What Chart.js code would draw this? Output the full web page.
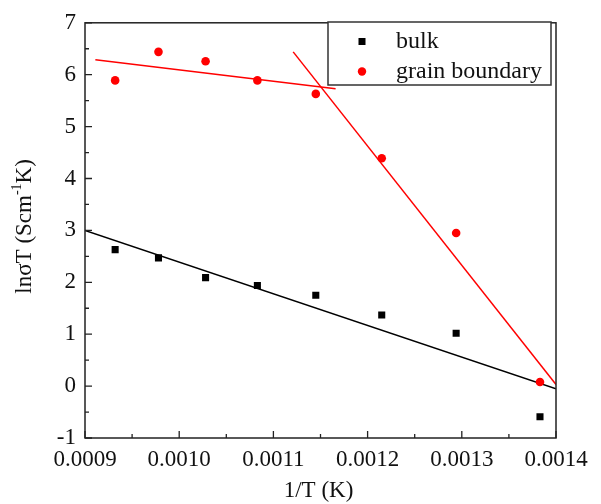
<!DOCTYPE html>
<html>
<head>
<meta charset="utf-8">
<style>
  html, body { margin: 0; padding: 0; background: #fff; }
  #wrap { width: 601px; height: 504px; }
</style>
<script src="https://cdn.jsdelivr.net/npm/chart.js@4/dist/chart.umd.min.js"></script>
</head>
<body>
<div id="wrap"><canvas id="c" width="601" height="504"></canvas></div>
<script>
// Inverse temperature, 1/T (K^-1), for T = 1073 ... 723 K
const invT = [0.000932, 0.000978, 0.001028, 0.001083, 0.001145, 0.001215, 0.001294, 0.001383];
// ln(sigma*T) for the bulk and grain-boundary contributions
const bulk = [2.63, 2.47, 2.09, 1.94, 1.75, 1.37, 1.02, -0.59];
const grainBoundary = [5.89, 6.44, 6.26, 5.89, 5.63, 4.39, 2.95, 0.08];

// Arrhenius fit lines: [x, y] end points
const bulkFitX = [0.0009, 0.0014];
const bulkFitY = [3.00, -0.05];
const gbFitHighTX = [0.000911, 0.001166];
const gbFitHighTY = [6.29, 5.73];
const gbFitLowTX = [0.001121, 0.0014];
const gbFitLowTY = [6.44, 0.03];

// Axis ranges and tick steps
const xRange = [0.0009, 0.0014], xStep = 0.0001;
const yRange = [-1, 7], yStep = 1;

const FONT = '"Liberation Serif", "Times New Roman", serif';

const pts = (xs, ys) => xs.map((x, i) => ({ x: x, y: ys[i] }));

// Frame, inward ticks, axis titles and legend
const decorations = {
  id: 'decorations',
  afterDatasetsDraw(chart) {
    const ctx = chart.ctx;
    const a = chart.chartArea;
    const xs = chart.scales.x, ys = chart.scales.y;
    ctx.save();
    ctx.strokeStyle = '#222';
    ctx.lineWidth = 1.5;
    ctx.strokeRect(a.left, a.top, a.right - a.left, a.bottom - a.top);

    ctx.lineWidth = 1.3;
    ctx.beginPath();
    // left axis ticks (pointing inward)
    for (let v = yRange[0]; v <= yRange[1] + 1e-9; v += yStep) {
      const py = ys.getPixelForValue(v);
      ctx.moveTo(a.left, py); ctx.lineTo(a.left + 7, py);
      if (v + yStep / 2 < yRange[1]) {
        const pm = ys.getPixelForValue(v + yStep / 2);
        ctx.moveTo(a.left, pm); ctx.lineTo(a.left + 4, pm);
      }
    }
    // bottom axis ticks (pointing inward)
    for (let i = 0; i <= Math.round((xRange[1] - xRange[0]) / xStep); i++) {
      const v = xRange[0] + i * xStep;
      const px = xs.getPixelForValue(v);
      ctx.moveTo(px, a.bottom); ctx.lineTo(px, a.bottom - 7);
      if (v + xStep / 2 < xRange[1]) {
        const pm = xs.getPixelForValue(v + xStep / 2);
        ctx.moveTo(pm, a.bottom); ctx.lineTo(pm, a.bottom - 4);
      }
    }
    ctx.stroke();

    // x axis title
    ctx.fillStyle = '#111';
    ctx.font = '23px ' + FONT;
    ctx.textAlign = 'center';
    ctx.textBaseline = 'middle';
    ctx.fillText('1/T (K)', (a.left + a.right) / 2 - 2, 491);

    // y axis title with superscript
    ctx.save();
    ctx.translate(25, (a.top + a.bottom) / 2 - 4);
    ctx.rotate(-Math.PI / 2);
    const p1 = 'lnσT (Scm', sup = '-1', p2 = 'K)';
    ctx.font = '23px ' + FONT;
    const w1 = ctx.measureText(p1).width;
    const w3 = ctx.measureText(p2).width;
    ctx.font = '14px ' + FONT;
    const w2 = ctx.measureText(sup).width;
    let x0 = -(w1 + w2 + w3) / 2;
    ctx.textAlign = 'left';
    ctx.textBaseline = 'middle';
    ctx.font = '23px ' + FONT;
    ctx.fillText(p1, x0, 0);
    ctx.font = '14px ' + FONT;
    ctx.fillText(sup, x0 + w1, -8);
    ctx.font = '23px ' + FONT;
    ctx.fillText(p2, x0 + w1 + w2, 0);
    ctx.restore();

    // legend box
    const lx = 328, ly = 22, lw = 223, lh = 63;
    ctx.fillStyle = '#fff';
    ctx.fillRect(lx, ly, lw, lh);
    ctx.strokeStyle = '#333';
    ctx.lineWidth = 1.5;
    ctx.strokeRect(lx, ly, lw, lh);
    const items = chart.data.datasets.filter(d => d.showInLegend);
    items.forEach((d, i) => {
      const cy = 41.5 + i * 30;
      ctx.fillStyle = d.backgroundColor;
      if (d.pointStyle === 'rect') {
        ctx.fillRect(362 - 3.5, cy - 3.5, 7, 7);
      } else {
        ctx.beginPath();
        ctx.arc(362, cy, 4.2, 0, Math.PI * 2);
        ctx.fill();
      }
      ctx.fillStyle = '#111';
      ctx.font = '24px ' + FONT;
      ctx.textAlign = 'left';
      ctx.textBaseline = 'middle';
      ctx.fillText(d.label, 396, cy);
    });
    ctx.restore();
  }
};

new Chart(document.getElementById('c'), {
  type: 'scatter',
  data: {
    datasets: [
      { label: 'bulk', showInLegend: true, data: pts(invT, bulk),
        pointStyle: 'rect', pointRadius: 5, backgroundColor: '#000', borderColor: '#000', borderWidth: 0 },
      { label: 'grain boundary', showInLegend: true, data: pts(invT, grainBoundary),
        pointStyle: 'circle', pointRadius: 4.3, backgroundColor: '#ff0000', borderColor: '#ff0000', borderWidth: 0 },
      { label: 'bulk fit', data: pts(bulkFitX, bulkFitY), showLine: true,
        pointRadius: 0, borderColor: '#000', borderWidth: 1.5 },
      { label: 'gb fit high T', data: pts(gbFitHighTX, gbFitHighTY), showLine: true, clip: false,
        pointRadius: 0, borderColor: '#ff0000', borderWidth: 1.5 },
      { label: 'gb fit low T', data: pts(gbFitLowTX, gbFitLowTY), showLine: true,
        pointRadius: 0, borderColor: '#ff0000', borderWidth: 1.5 }
    ]
  },
  options: {
    responsive: false,
    animation: false,
    events: [],
    layout: { padding: { top: 19, right: 45, left: 0, bottom: 0 } },
    plugins: { legend: { display: false }, tooltip: { enabled: false } },
    scales: {
      x: {
        type: 'linear', min: xRange[0], max: xRange[1],
        grid: { display: false, drawTicks: false },
        border: { display: false },
        ticks: {
          stepSize: xStep, autoSkip: false, maxRotation: 0, padding: 8,
          color: '#111', font: { family: FONT, size: 23 },
          callback: v => v.toFixed(4)
        },
        afterFit: s => { s.height = 66; }
      },
      y: {
        type: 'linear', min: yRange[0], max: yRange[1],
        grid: { display: false, drawTicks: false },
        border: { display: false },
        ticks: {
          stepSize: yStep, padding: 9,
          color: '#111', font: { family: FONT, size: 23 },
          callback: v => String(Math.round(v))
        },
        afterFit: s => { s.width = 85; }
      }
    }
  },
  plugins: [decorations]
});
</script>
</body>
</html>
